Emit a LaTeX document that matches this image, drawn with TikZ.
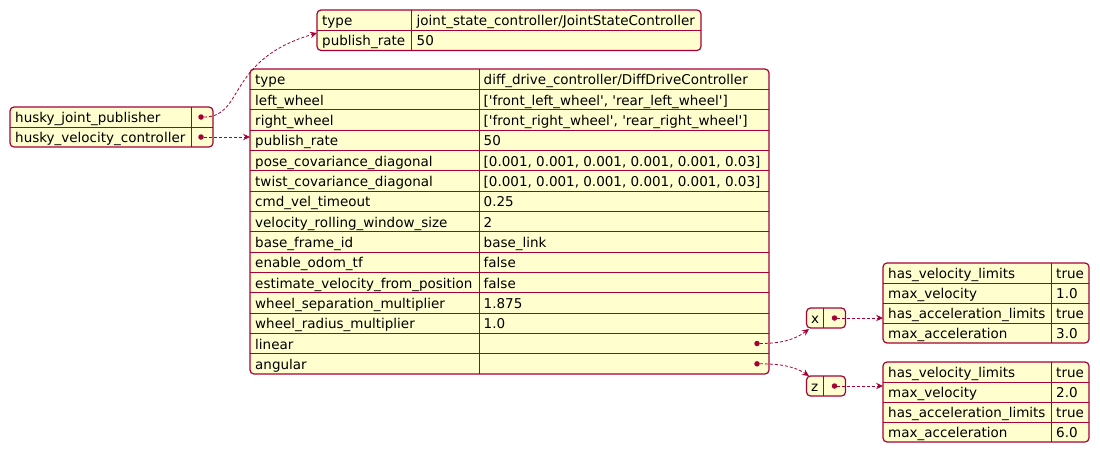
\documentclass[tikz,border=0pt]{standalone}
\usepackage{fontspec}
\setmainfont{DejaVu Sans}[Ligatures=TeXOff]
\usetikzlibrary{arrows.meta}
\definecolor{boxfill}{HTML}{FEFECE}
\definecolor{boxline}{HTML}{A80036}
\tikzset{
  tbl/.style={draw=boxline, fill=boxfill, line width=1.2pt, rounded corners=4pt},
  sep/.style={draw=boxline, line width=0.9pt},
  key/.style={anchor=west, inner sep=0pt, text height=11pt, text depth=0pt, font=\fontsize{13.5}{16}\selectfont},
  dot/.style={circle, fill=boxline, inner sep=0pt, minimum size=5.5pt},
  link/.style={draw=boxline, line width=0.8pt, dash pattern=on 3pt off 2pt,
    -{Stealth[length=7pt, width=6.5pt, inset=2.5pt]}}
}
\begin{document}
\begin{tikzpicture}[x=1pt, y=-1pt]
\useasboundingbox (0,0) rectangle (1100,453);

% controller list
\draw[tbl] (10,107) rectangle (213,147);
\draw[sep] (10,127) -- (213,127);
\draw[sep] (191.5,107) -- (191.5,147);
\node[key] (c1) at (15,117) {husky\_joint\_publisher};
\node[key] (c2) at (15,137) {husky\_velocity\_controller};
\node[dot] (cd1) at (201,117) {};
\node[dot] (cd2) at (201,137) {};

% joint publisher
\draw[tbl] (317,10) rectangle (701,50.5);
\draw[sep] (317,30) -- (701,30);
\draw[sep] (411.5,10) -- (411.5,50.5);
\node[key] (j1) at (322,20) {type};
\node[key] (j1v) at (416.5,20) {joint\_state\_controller/JointStateController};
\node[key] (j2) at (322,40) {publish\_rate};
\node[key] (j2v) at (416.5,40) {50};
\coordinate (jin) at (317,33);

% velocity controller
\draw[tbl] (250,69) rectangle (769,374);
\foreach \y in {89.3,109.7,130,150.3,170.7,191,211.3,231.7,252,272.3,292.7,313,333.3,353.7}
  \draw[sep] (250,\y) -- (769,\y);
\draw[sep] (479,69) -- (479,374);
\node[key] (v1) at (255,79.2) {type};
\node[key] (v1v) at (483.5,79.2) {diff\_drive\_controller/DiffDriveController};
\node[key] (v2) at (255,99.5) {left\_wheel};
\node[key] (v2v) at (483.5,99.5) {['front\_left\_wheel', 'rear\_left\_wheel']};
\node[key] (v3) at (255,119.8) {right\_wheel};
\node[key] (v3v) at (483.5,119.8) {['front\_right\_wheel', 'rear\_right\_wheel']};
\node[key] (v4) at (255,140.2) {publish\_rate};
\node[key] (v4v) at (483.5,140.2) {50};
\node[key] (v5) at (255,160.5) {pose\_covariance\_diagonal};
\node[key] (v5v) at (483.5,160.5) {[0.001, 0.001, 0.001, 0.001, 0.001, 0.03]};
\node[key] (v6) at (255,180.8) {twist\_covariance\_diagonal};
\node[key] (v6v) at (483.5,180.8) {[0.001, 0.001, 0.001, 0.001, 0.001, 0.03]};
\node[key] (v7) at (255,201.2) {cmd\_vel\_timeout};
\node[key] (v7v) at (483.5,201.2) {0.25};
\node[key] (v8) at (255,221.5) {velocity\_rolling\_window\_size};
\node[key] (v8v) at (483.5,221.5) {2};
\node[key] (v9) at (255,241.8) {base\_frame\_id};
\node[key] (v9v) at (483.5,241.8) {base\_link};
\node[key] (v10) at (255,262.2) {enable\_odom\_tf};
\node[key] (v10v) at (483.5,262.2) {false};
\node[key] (v11) at (255,282.5) {estimate\_velocity\_from\_position};
\node[key] (v11v) at (483.5,282.5) {false};
\node[key] (v12) at (255,302.8) {wheel\_separation\_multiplier};
\node[key] (v12v) at (483.5,302.8) {1.875};
\node[key] (v13) at (255,323.2) {wheel\_radius\_multiplier};
\node[key] (v13v) at (483.5,323.2) {1.0};
\node[key] (v14) at (255,343.5) {linear};
\node[key] (v15) at (255,363.8) {angular};
\node[dot] (vd14) at (757,343.5) {};
\node[dot] (vd15) at (757,363.8) {};
\coordinate (vin) at (250,137);

% x and z
\draw[tbl] (806.5,308) rectangle (845.5,328);
\draw[sep] (823.5,308) -- (823.5,328);
\node[key] (x) at (811,318) {x};
\node[dot] (xd) at (834.5,318) {};
\coordinate (xin) at (809,329);
\draw[tbl] (806.5,376) rectangle (845.5,396);
\draw[sep] (823.5,376) -- (823.5,396);
\node[key] (z) at (811,386) {z};
\node[dot] (zd) at (834.5,386) {};
\coordinate (zin) at (809,376);

% limits for x
\draw[tbl] (883,263) rectangle (1089,343);
\draw[sep] (883,283) -- (1089,283);
\draw[sep] (883,303) -- (1089,303);
\draw[sep] (883,323) -- (1089,323);
\draw[sep] (1051.5,263) -- (1051.5,343);
\node[key] (lx1) at (888,273) {has\_velocity\_limits};
\node[key] (lx1v) at (1056,273) {true};
\node[key] (lx2) at (888,293) {max\_velocity};
\node[key] (lx2v) at (1056,293) {1.0};
\node[key] (lx3) at (888,313) {has\_acceleration\_limits};
\node[key] (lx3v) at (1056,313) {true};
\node[key] (lx4) at (888,333) {max\_acceleration};
\node[key] (lx4v) at (1056,333) {3.0};
\coordinate (lxin) at (883,318);

% limits for z
\draw[tbl] (883,362) rectangle (1089,442);
\draw[sep] (883,382) -- (1089,382);
\draw[sep] (883,402) -- (1089,402);
\draw[sep] (883,422) -- (1089,422);
\draw[sep] (1051.5,362) -- (1051.5,442);
\node[key] (lz1) at (888,372) {has\_velocity\_limits};
\node[key] (lz1v) at (1056,372) {true};
\node[key] (lz2) at (888,392) {max\_velocity};
\node[key] (lz2v) at (1056,392) {2.0};
\node[key] (lz3) at (888,412) {has\_acceleration\_limits};
\node[key] (lz3v) at (1056,412) {true};
\node[key] (lz4) at (888,432) {max\_acceleration};
\node[key] (lz4v) at (1056,432) {6.0};
\coordinate (lzin) at (883,386);

\draw[link] (cd1) .. controls (245,117) and (225,60) .. (jin);
\draw[link] (cd2) -- (vin);
\draw[link] (vd14) .. controls (785,343.5) and (797,338) .. (xin);
\draw[link] (vd15) .. controls (785,363.8) and (797,368) .. (zin);
\draw[link] (xd) -- (lxin);
\draw[link] (zd) -- (lzin);
\end{tikzpicture}
\end{document}
